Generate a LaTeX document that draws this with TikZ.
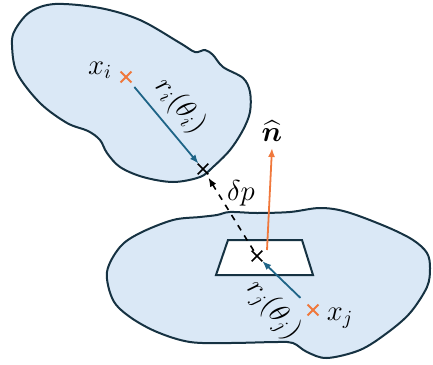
\documentclass[tikz,border=0pt]{standalone}
\usepackage{amsmath,amssymb,bm}
\usetikzlibrary{arrows.meta,shapes.misc}
\definecolor{BlobFill}{RGB}{218,232,246}
\definecolor{BlobLine}{RGB}{22,50,66}
\definecolor{RayBlue}{RGB}{30,100,135}
\definecolor{NormOrange}{RGB}{240,120,60}
\tikzset{
  blob/.style={draw=BlobLine,fill=BlobFill,line width=1pt},
  patch/.style={draw=BlobLine,fill=white,line width=1pt},
  centre/.style={cross out,draw=NormOrange,line width=0.9pt,
    minimum size=4.5pt,inner sep=0pt},
  contact/.style={cross out,draw=black,line width=0.8pt,
    minimum size=4.5pt,inner sep=0pt},
  ray/.style={-{Latex[length=4.5pt,width=3.5pt]},RayBlue,line width=0.9pt},
  normal/.style={-{Latex[length=4.5pt,width=3.5pt]},NormOrange,line width=0.9pt},
  gap/.style={-{Latex[length=4.5pt,width=3.5pt]},dashed,black,line width=0.8pt},
  lbl/.style={font=\Large,inner sep=1pt}
}
\begin{document}
\begin{tikzpicture}[x=0.5pt,y=-0.5pt]
  \useasboundingbox (0,0) rectangle (433,364);
  % the two bodies
  \draw[blob] plot[smooth cycle,tension=0.55] coordinates {
    (15,30) (30,12) (55,4) (100,8) (140,20) (180,43) (195,52) (205,50)
    (213,55) (223,67) (243,78) (250,92) (250,112) (243,130) (230,150)
    (213,167) (200,177) (173,182) (143,177) (120,167) (107,153) (100,140)
    (88,131) (67,123) (40,103) (17,73) (12,45)};
  \draw[blob] plot[smooth cycle,tension=0.55] coordinates {
    (107,272) (120,247) (140,233) (173,220) (200,217) (217,215) (230,212)
    (257,213) (290,212) (320,208) (347,212) (387,227) (413,240) (427,253)
    (430,268) (427,287) (410,313) (387,333) (360,350) (327,358) (307,352)
    (293,343) (277,342) (230,343) (190,342) (157,332) (130,317) (113,300)};
  \draw[patch] (228,240) -- (302,240) -- (313,275) -- (216,275) -- cycle;

  \node[centre] (xi) at (126,77) {};
  \node[contact] (pi) at (203,169) {};
  \node[contact] (pj) at (257,256) {};
  \node[centre] (xj) at (313,310) {};
  \coordinate (nbase) at (267,250);
  \coordinate (ntip) at (272,148);

  \draw[ray,shorten <=3pt] (xi) -- (pi);
  \draw[gap,shorten >=2pt] (pj) -- (pi);
  \draw[normal] (nbase) -- (ntip);
  \draw[ray,shorten <=5pt] (xj) -- (pj);

  \node[lbl] (lxi) at (100,70) {$x_i$};
  \node[lbl,rotate=-50] (lri) at (180,106) {$r_i(\theta_i)$};
  \node[lbl] (ln) at (272,131) {$\widehat{\bm n}$};
  \node[lbl] (ldp) at (241,193) {$\delta p$};
  \node[lbl] (lxj) at (340,318) {$x_j$};
  \node[lbl,rotate=-50] (lrj) at (273,310) {$r_j(\theta_j)$};
\end{tikzpicture}
\end{document}
